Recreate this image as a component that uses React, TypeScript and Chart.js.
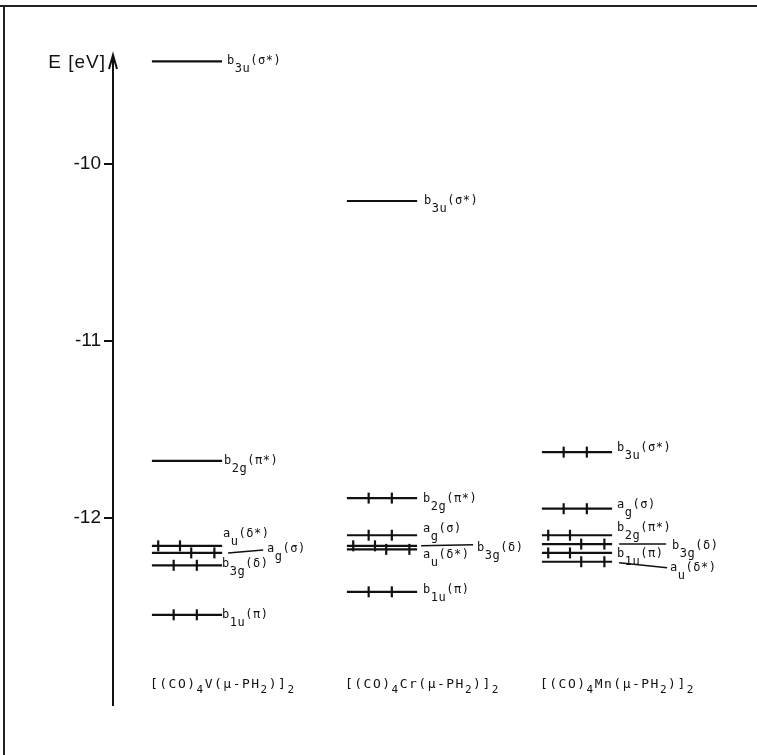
import React, { useEffect, useRef } from 'react';
import { Chart, registerables } from 'chart.js';

Chart.register(...registerables);

// ---------- data ----------
const compounds = ['[(CO)_4V(μ-PH_2)]_2', '[(CO)_4Cr(μ-PH_2)]_2', '[(CO)_4Mn(μ-PH_2)]_2'];
const columnX = [1, 2, 3];

const orbitalsV = ['b_{3u}(σ*)', 'b_{2g}(π*)', 'a_u(δ*)', 'a_g(σ)', 'b_{3g}(δ)', 'b_{1u}(π)'];
const energiesV = [-9.42, -11.68, -12.16, -12.2, -12.27, -12.55];
const electronsV = ['', '', 'L', 'R', 'M', 'M'];

const orbitalsCr = ['b_{3u}(σ*)', 'b_{2g}(π*)', 'a_g(σ)', 'b_{3g}(δ)', 'a_u(δ*)', 'b_{1u}(π)'];
const energiesCr = [-10.21, -11.89, -12.1, -12.16, -12.18, -12.42];
const electronsCr = ['', 'M', 'M', 'L', 'R', 'M'];

const orbitalsMn = ['b_{3u}(σ*)', 'a_g(σ)', 'b_{2g}(π*)', 'b_{3g}(δ)', 'b_{1u}(π)', 'a_u(δ*)'];
const energiesMn = [-11.63, -11.95, -12.1, -12.15, -12.2, -12.25];
const electronsMn = ['M', 'M', 'L', 'R', 'L', 'R'];

const yTicks = [-10, -11, -12];
const yMin = -13.06;
const yMax = -9.39;
const axisTitle = 'E [eV]';

// ---------- layout (pixels / fractions, not data) ----------
const xMin = 0.6205;
const xMax = 3.8;
const halfWidth = 0.18;
const electronSlots: Record<string, number[]> = {
  L: [0.09, 0.4],
  M: [0.31, 0.64],
  R: [0.56, 0.89],
};
type Lay = { dx: number; dy: number; conn?: number[] };
const layoutV: Lay[] = [
  { dx: 5, dy: 0 },
  { dx: 2, dy: 0 },
  { dx: 1, dy: -12 },
  { dx: 45, dy: -4, conn: [6, 0, 41, -3] },
  { dx: 0, dy: -1 },
  { dx: 0, dy: 0 },
];
const layoutCr: Lay[] = [
  { dx: 7, dy: 0 },
  { dx: 6, dy: 1 },
  { dx: 6, dy: -6 },
  { dx: 60, dy: 2, conn: [4, 0, 56, -1] },
  { dx: 6, dy: 5 },
  { dx: 6, dy: -2 },
];
const layoutMn: Lay[] = [
  { dx: 5, dy: -4 },
  { dx: 5, dy: -4 },
  { dx: 5, dy: -7 },
  { dx: 60, dy: 2, conn: [7, 0, 54, 0] },
  { dx: 5, dy: 1 },
  { dx: 58, dy: 6, conn: [7, 1, 55, 6] },
];

const MONO = '"DejaVu Sans Mono", "Liberation Mono", monospace';
const SANS = '"Liberation Sans", Arial, sans-serif';
const INK = '#111';

function drawRich(
  ctx: CanvasRenderingContext2D,
  text: string,
  x: number,
  y: number,
  size: number,
  subSize: number,
  subDy: number,
  spacing: number
) {
  const segs: { t: string; sub: boolean }[] = [];
  let buf = '';
  let i = 0;
  while (i < text.length) {
    const ch = text[i];
    if (ch === '_') {
      if (buf) {
        segs.push({ t: buf, sub: false });
        buf = '';
      }
      if (text[i + 1] === '{') {
        const j = text.indexOf('}', i);
        segs.push({ t: text.slice(i + 2, j), sub: true });
        i = j + 1;
      } else {
        segs.push({ t: text[i + 1], sub: true });
        i += 2;
      }
    } else {
      buf += ch;
      i++;
    }
  }
  if (buf) segs.push({ t: buf, sub: false });
  let cx = x;
  ctx.textAlign = 'left';
  ctx.textBaseline = 'middle';
  (ctx as any).letterSpacing = spacing + 'px';
  for (const s of segs) {
    ctx.font = `${s.sub ? subSize : size}px ${MONO}`;
    ctx.fillText(s.t, cx, s.sub ? y + subDy : y);
    cx += ctx.measureText(s.t).width;
  }
  (ctx as any).letterSpacing = '0px';
}

export default function App() {
  const ref = useRef<HTMLCanvasElement>(null);

  useEffect(() => {
    document.body.style.margin = '0';
    const canvas = ref.current;
    if (!canvas) return;

    const columns = [
      { orb: orbitalsV, en: energiesV, el: electronsV, lay: layoutV },
      { orb: orbitalsCr, en: energiesCr, el: electronsCr, lay: layoutCr },
      { orb: orbitalsMn, en: energiesMn, el: electronsMn, lay: layoutMn },
    ];

    const datasets: any[] = [];
    columns.forEach((col, ci) => {
      const c = columnX[ci];
      col.en.forEach((e) => {
        datasets.push({
          data: [
            { x: c - halfWidth, y: e },
            { x: c + halfWidth, y: e },
          ],
          showLine: true,
          borderColor: INK,
          borderWidth: 2.2,
          pointRadius: 0,
          fill: false,
        });
      });
    });

    const electronPts: { x: number; y: number }[] = [];
    columns.forEach((col, ci) => {
      col.el.forEach((k, li) => {
        if (!k) return;
        electronSlots[k].forEach((f) =>
          electronPts.push({ x: columnX[ci] - halfWidth + f * 2 * halfWidth, y: col.en[li] })
        );
      });
    });
    datasets.push({
      data: electronPts,
      showLine: false,
      pointStyle: 'line',
      rotation: 90,
      pointRadius: 5.5,
      borderColor: INK,
      borderWidth: 2.2,
    });

    const decor = {
      id: 'decor',
      afterDraw(chart: any) {
        const ctx: CanvasRenderingContext2D = chart.ctx;
        const xs = chart.scales.x;
        const ys = chart.scales.y;
        const area = chart.chartArea;
        ctx.save();
        ctx.fillStyle = INK;
        ctx.strokeStyle = INK;

        // frame remnants
        ctx.lineWidth = 2;
        ctx.strokeStyle = '#222';
        ctx.beginPath();
        ctx.moveTo(0, 6);
        ctx.lineTo(chart.width, 6);
        ctx.moveTo(4, 6);
        ctx.lineTo(4, chart.height);
        ctx.stroke();
        ctx.strokeStyle = INK;

        // axis arrow
        const ax = area.left;
        ctx.lineWidth = 2;
        ctx.beginPath();
        ctx.moveTo(ax - 4, area.top + 13);
        ctx.lineTo(ax, area.top - 1);
        ctx.lineTo(ax + 4, area.top + 13);
        ctx.stroke();

        // axis title
        ctx.font = `19px ${SANS}`;
        ctx.textAlign = 'right';
        ctx.textBaseline = 'middle';
        (ctx as any).letterSpacing = '1px';
        ctx.fillText(axisTitle, ax - 7, area.top + 7);
        (ctx as any).letterSpacing = '0px';

        columns.forEach((col, ci) => {
          const xEnd = xs.getPixelForValue(columnX[ci] + halfWidth);
          const xStart = xs.getPixelForValue(columnX[ci] - halfWidth);
          col.orb.forEach((name, li) => {
            const y = ys.getPixelForValue(col.en[li]);
            const L = col.lay[li];
            if (L.conn) {
              ctx.lineWidth = 1.5;
              ctx.beginPath();
              ctx.moveTo(xEnd + L.conn[0], y + L.conn[1]);
              ctx.lineTo(xEnd + L.conn[2], y + L.conn[3]);
              ctx.stroke();
            }
            drawRich(ctx, name, xEnd + L.dx, y + L.dy, 12, 12, 8, 0.5);
          });
          drawRich(ctx, compounds[ci], xStart - 2, area.bottom - 20, 13, 11, 5, 1.5);
        });
        ctx.restore();
      },
    };

    const chart = new Chart(canvas, {
      type: 'scatter',
      data: { datasets },
      options: {
        animation: false,
        responsive: false,
        devicePixelRatio: 1,
        layout: { padding: { left: 8, top: 56, right: 24, bottom: 50 } },
        plugins: { legend: { display: false }, tooltip: { enabled: false } },
        scales: {
          x: { type: 'linear', min: xMin, max: xMax, display: false },
          y: {
            type: 'linear',
            min: yMin,
            max: yMax,
            position: 'left',
            afterFit: (s: any) => {
              s.width = 105;
            },
            afterBuildTicks: (s: any) => {
              s.ticks = yTicks.map((v) => ({ value: v }));
            },
            grid: { drawOnChartArea: false, drawTicks: true, tickLength: 9, color: INK, lineWidth: 2 },
            border: { display: true, color: INK, width: 2 },
            ticks: {
              color: INK,
              font: { family: SANS, size: 19 },
              padding: 3,
              callback: (v: any) => String(v),
            },
          },
        },
      },
      plugins: [decor],
    } as any);

    return () => chart.destroy();
  }, []);

  return (
    <canvas
      ref={ref}
      width={757}
      height={755}
      style={{ display: 'block', width: 757, height: 755 }}
    />
  );
}
